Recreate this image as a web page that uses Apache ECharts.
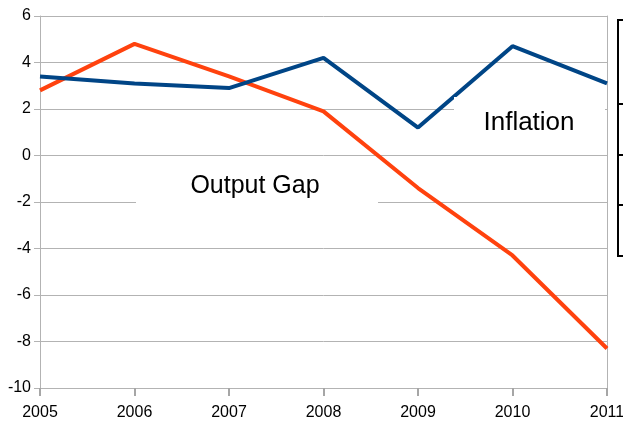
<!DOCTYPE html>
<html>
<head>
<meta charset="utf-8">
<script src="https://cdn.jsdelivr.net/npm/echarts@6/dist/echarts.min.js"></script>
<style>
html, body { margin: 0; padding: 0; background: #fff; }
#chart { width: 623px; height: 428px; }
</style>
</head>
<body>
<div id="chart"></div>
<script>
// years on the x axis
const years = ['2005', '2006', '2007', '2008', '2009', '2010', '2011'];
// series values
const inflation = [3.4, 3.1, 2.9, 4.2, 1.2, 4.7, 3.1];
const outputGap = [2.8, 4.8, 3.4, 1.9, -1.4, -4.3, -8.3];

const tickFont = "'Liberation Sans Narrow', 'Liberation Sans', sans-serif";
const gridGrey = '#b3b3b3';

const chart = echarts.init(document.getElementById('chart'));

// pair each value with its year index so the x axis can be a plain value axis
function toPoints(values) {
    return values.map((v, i) => [i, v]);
}

chart.setOption({
    backgroundColor: '#ffffff',
    animation: false,
    grid: { left: 40, right: 16, top: 16, bottom: 40, outerBoundsMode: 'none', containLabel: false },
    xAxis: {
        type: 'value',
        min: 0,
        max: years.length - 1,
        interval: 1,
        axisLine: { show: true, onZero: false, lineStyle: { color: gridGrey } },
        axisTick: { show: true, length: 8, lineStyle: { color: '#a6a6a6', width: 2 } },
        axisLabel: { color: '#000', fontFamily: tickFont, fontSize: 16, margin: 17, formatter: (i) => years[i] },
        splitLine: { show: false }
    },
    yAxis: [{
        type: 'value',
        min: -10,
        max: 6,
        interval: 2,
        axisLine: { show: true, lineStyle: { color: gridGrey } },
        axisTick: { show: true, length: 6, lineStyle: { color: gridGrey } },
        axisLabel: { color: '#000', fontFamily: tickFont, fontSize: 16, margin: 9 },
        splitLine: { lineStyle: { color: gridGrey, width: 1 } }
    }, {
        type: 'value',
        position: 'right',
        min: -10,
        max: 6,
        interval: 2,
        axisLine: { show: true, lineStyle: { color: gridGrey } },
        axisTick: { show: false },
        axisLabel: { show: false },
        splitLine: { show: false }
    }],
    series: [{
        name: 'Inflation',
        type: 'line',
        data: toPoints(inflation),
        showSymbol: false,
        lineStyle: { color: '#004586', width: 4 },
        z: 3
    }, {
        name: 'Output Gap',
        type: 'line',
        data: toPoints(outputGap),
        showSymbol: false,
        lineStyle: { color: '#ff420e', width: 4 },
        z: 2
    }],
    graphic: [
        // white label boxes that hide the gridlines behind them
        { type: 'rect', z: 100, shape: { x: 136, y: 162, width: 242, height: 44 }, style: { fill: '#fff' } },
        { type: 'text', z: 101, x: 255, y: 186, style: { text: 'Output Gap', fill: '#000', font: "25px 'Liberation Sans', Arial, sans-serif", align: 'center', verticalAlign: 'middle' } },
        { type: 'rect', z: 100, shape: { x: 454, y: 97, width: 151, height: 51 }, style: { fill: '#fff' } },
        { type: 'text', z: 101, x: 529, y: 123, style: { text: 'Inflation', fill: '#000', font: "26px 'Liberation Sans', Arial, sans-serif", align: 'center', verticalAlign: 'middle' } },
        // clipped legend frame on the right edge
        { type: 'rect', z: 100, shape: { x: 618, y: 20, width: 20, height: 236 }, style: { fill: '#fff', stroke: '#000', lineWidth: 2 } },
        { type: 'line', z: 101, shape: { x1: 618, y1: 104, x2: 623, y2: 104 }, style: { stroke: '#000', lineWidth: 2 } },
        { type: 'line', z: 101, shape: { x1: 618, y1: 155, x2: 623, y2: 155 }, style: { stroke: '#000', lineWidth: 2 } },
        { type: 'line', z: 101, shape: { x1: 618, y1: 205, x2: 623, y2: 205 }, style: { stroke: '#000', lineWidth: 2 } }
    ]
});
</script>
</body>
</html>
